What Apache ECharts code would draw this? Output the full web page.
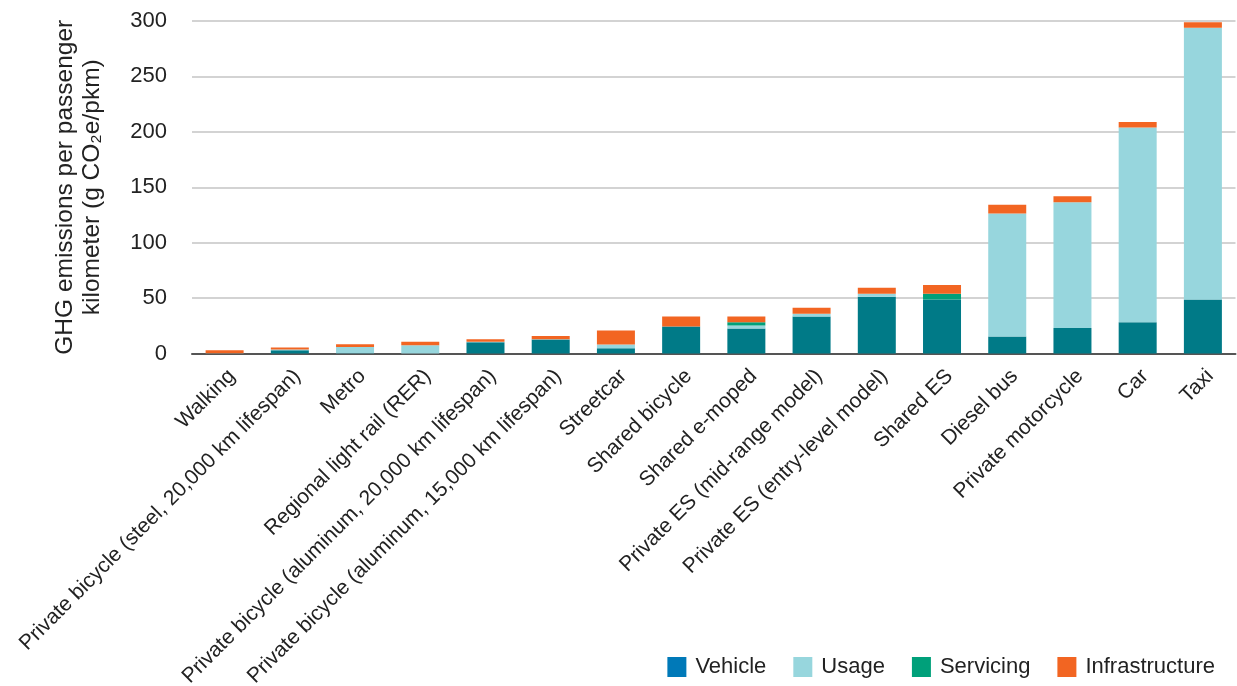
<!DOCTYPE html>
<html>
<head>
<meta charset="utf-8">
<script src="https://cdn.jsdelivr.net/npm/echarts@6/dist/echarts.min.js"></script>
<style>
html,body{margin:0;padding:0;background:#fff;}
#chart{width:1237px;height:686px;}
</style>
</head>
<body>
<div id="chart"></div>
<script>
const categories = [
  "Walking",
  "Private bicycle (steel, 20,000 km lifespan)",
  "Metro",
  "Regional light rail (RER)",
  "Private bicycle (aluminum, 20,000 km lifespan)",
  "Private bicycle (aluminum, 15,000 km lifespan)",
  "Streetcar",
  "Shared bicycle",
  "Shared e-moped",
  "Private ES (mid-range model)",
  "Private ES (entry-level model)",
  "Shared ES",
  "Diesel bus",
  "Private motorcycle",
  "Car",
  "Taxi"
];
const vehicle        = [0,   3,   0.3, 0,   10.2, 12.6, 4.8,  24.4, 22.6, 33.4, 51.2, 48.8, 15.4,  22.9,  28.3,  48.8];
const usage          = [0.2, 0.5, 5.5, 7.5, 0.3,  0.3,  3.3,  0,    2.7,  2.4,  2.7,  0,    110.9, 113.6, 175.5, 245.1];
const servicing      = [0,   0,   0,   0,   0,    0,    0,    0,    3,    0,    0,    5.1,  0,     0,     0,     0];
const infrastructure = [2.7, 2,   2.5, 3,   2.4,  3,    12.6, 9,    5.1,  5.4,  5.4,  7.8,  7.8,   5.4,   5.1,   4.9];
const yTicks = [0, 50, 100, 150, 200, 250, 300];
const seriesNames = ["Vehicle", "Usage", "Servicing", "Infrastructure"];

const FONT = "Liberation Sans";
const barColors = ["#007A87", "#97D6DD", "#00A07A", "#F26522"];
const legendColors = ["#0079B8", "#97D6DD", "#00A07A", "#F26522"];
const values = [vehicle, usage, servicing, infrastructure];

const chart = echarts.init(document.getElementById('chart'));
chart.setOption({
  animation: false,
  backgroundColor: '#fff',
  grid: { left: 192, right: 1.5, top: 21, bottom: 332.5, containLabel: false, outerBoundsMode: 'none' },
  legend: {
    right: 17,
    bottom: 3,
    itemWidth: 19,
    itemHeight: 20,
    itemGap: 27,
    icon: 'rect',
    textStyle: { fontFamily: FONT, fontSize: 22, color: '#222', padding: [0, 0, 0, 4] },
    data: seriesNames.map((n, i) => ({ name: n, itemStyle: { color: legendColors[i] } }))
  },
  xAxis: {
    type: 'category',
    data: categories,
    axisLine: { lineStyle: { color: '#555', width: 2 } },
    axisTick: { show: false },
    axisLabel: {
      rotate: 45,
      interval: 0,
      margin: 12,
      verticalAlign: 'top',
      fontFamily: FONT,
      fontSize: 21,
      color: '#222'
    }
  },
  yAxis: {
    type: 'value',
    min: 0,
    max: 300,
    interval: 50,
    name: 'GHG emissions per passenger\nkilometer (g CO\u2082e/pkm)',
    nameLocation: 'middle',
    nameGap: 86,
    nameTextStyle: { fontFamily: FONT, fontSize: 24.5, color: '#222', lineHeight: 27 },
    axisLine: { show: false },
    axisTick: { show: false },
    axisLabel: {
      margin: 25,
      fontFamily: FONT,
      fontSize: 22,
      color: '#222',
      formatter: v => yTicks.includes(v) ? String(v) : ''
    },
    splitLine: { lineStyle: { color: '#c4c4c4', width: 1.5 } }
  },
  series: seriesNames.map((n, i) => ({
    name: n,
    type: 'bar',
    stack: 'total',
    barWidth: 38,
    itemStyle: { color: barColors[i] },
    emphasis: { disabled: true },
    data: values[i]
  }))
});
</script>
</body>
</html>
